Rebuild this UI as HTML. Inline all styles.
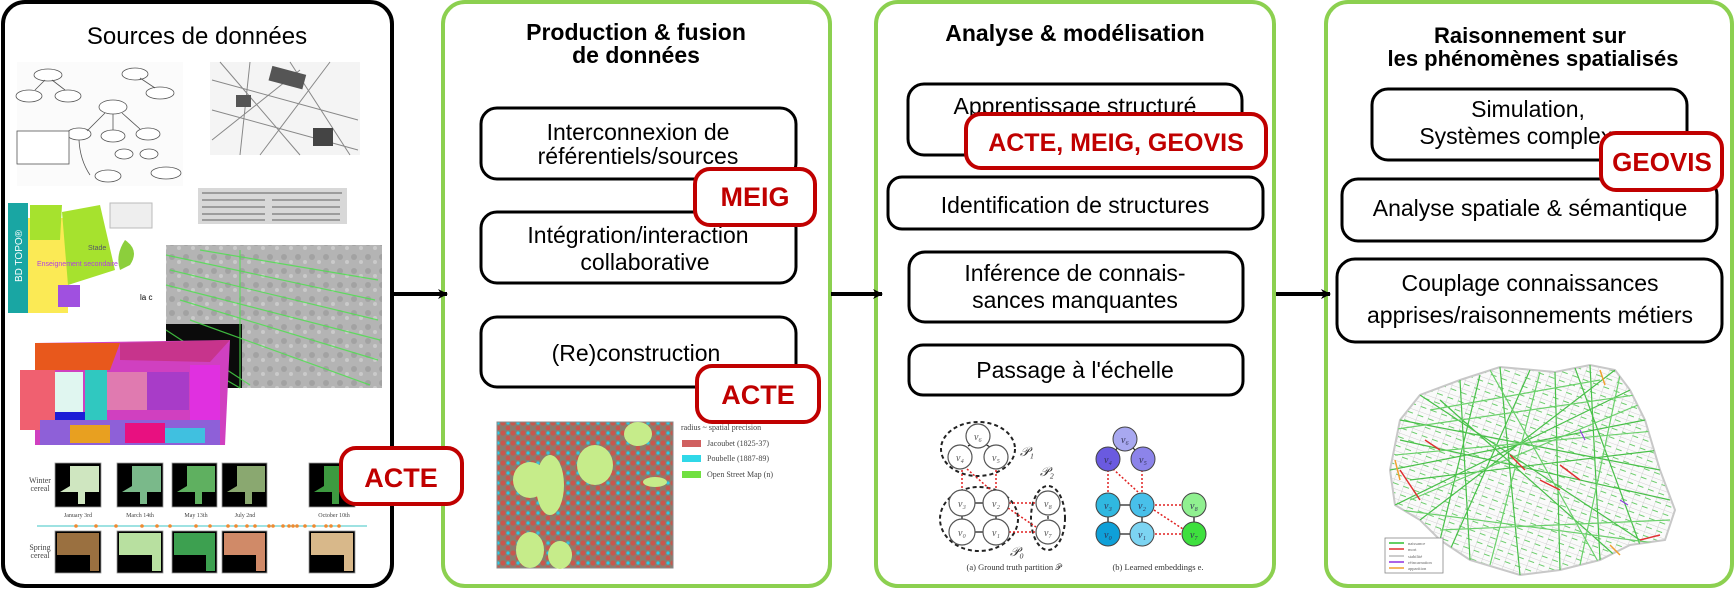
<!DOCTYPE html>
<html><head><meta charset="utf-8"><style>
html,body{margin:0;padding:0;background:#fff;}
svg{display:block;font-family:"Liberation Sans",Arial,sans-serif;}
</style></head><body>
<svg width="1735" height="589" viewBox="0 0 1735 589" xmlns="http://www.w3.org/2000/svg">
<defs>
<marker id="ah" markerWidth="10" markerHeight="10" refX="9" refY="5" orient="auto" markerUnits="userSpaceOnUse"><path d="M0,0 L10,5 L0,10 L3,5 Z" fill="#000"/></marker>
<pattern id="aer" width="14" height="14" patternUnits="userSpaceOnUse"><rect width="14" height="14" fill="#b4b4b4"/><circle cx="4" cy="5" r="3" fill="#a2a2a2"/><circle cx="11" cy="10" r="2" fill="#cacaca"/></pattern>
<pattern id="dots" width="10" height="10" patternUnits="userSpaceOnUse"><rect width="10" height="10" fill="#8a7d6e"/><circle cx="3" cy="3" r="2.6" fill="#c8574e"/><circle cx="8" cy="8" r="2.4" fill="#c8574e"/><circle cx="8" cy="3" r="1.6" fill="#2ec8e0"/></pattern>
<pattern id="grid" width="11" height="9" patternUnits="userSpaceOnUse" patternTransform="rotate(20)"><rect width="11" height="9" fill="#fafafa"/><path d="M0 0 H11 M0 0 V9" stroke="#d0d0d0" stroke-width="1"/><path d="M0 4 H6" stroke="#5cc85c" stroke-width="0.9"/></pattern>
<clipPath id="pc"><polygon points="1390,470 1400,420 1420,395 1460,380 1500,367 1555,372 1590,365 1615,370 1630,390 1645,420 1660,470 1675,510 1665,540 1630,545 1600,560 1560,570 1520,575 1470,560 1440,540 1420,520 1395,505"/></clipPath>
</defs>

<rect x="3" y="2" width="389" height="584" rx="22" fill="#fff" stroke="#000" stroke-width="4"/>
<rect x="443" y="2" width="387" height="584" rx="22" fill="#fff" stroke="#8cd050" stroke-width="4"/>
<rect x="876" y="2" width="398" height="584" rx="22" fill="#fff" stroke="#8cd050" stroke-width="4"/>
<rect x="1326" y="2" width="406" height="584" rx="22" fill="#fff" stroke="#8cd050" stroke-width="4"/>

<line x1="394" y1="294" x2="447" y2="294" stroke="#000" stroke-width="4" marker-end="url(#ah)"/>
<line x1="831" y1="294" x2="882" y2="294" stroke="#000" stroke-width="4" marker-end="url(#ah)"/>
<line x1="1276" y1="294" x2="1330" y2="294" stroke="#000" stroke-width="4" marker-end="url(#ah)"/>

<text x="197" y="44" font-size="24" text-anchor="middle">Sources de données</text>
<g fill="#fff" stroke="#555" stroke-width="0.8">
<rect x="17" y="62" width="166" height="124" fill="#fbfbfb" stroke="none"/>
<ellipse cx="48" cy="75" rx="14" ry="6"/><ellipse cx="29" cy="96" rx="13" ry="6"/><ellipse cx="68" cy="96" rx="13" ry="6"/>
<ellipse cx="135" cy="74" rx="13" ry="6"/><ellipse cx="160" cy="93" rx="14" ry="6"/><ellipse cx="113" cy="107" rx="14" ry="7"/>
<ellipse cx="79" cy="134" rx="12" ry="6"/><ellipse cx="113" cy="136" rx="12" ry="6"/><ellipse cx="148" cy="134" rx="12" ry="6"/>
<ellipse cx="124" cy="154" rx="9" ry="5"/><ellipse cx="149" cy="154" rx="9" ry="5"/><ellipse cx="108" cy="176" rx="13" ry="6"/><ellipse cx="166" cy="173" rx="15" ry="6"/>
<path d="M35 90 L45 80 M65 90 L52 80 M87 131 L105 113 M113 130 L113 114 M140 129 L122 113 M155 88 L140 78 M90 175 Q80 160 79 140" fill="none"/>
<rect x="17" y="131" width="52" height="33"/>
</g>
<rect x="210" y="62" width="150" height="93" fill="#f4f4f4"/>
<g stroke="#888" stroke-width="1" fill="none">
<path d="M212 80 L358 120 M220 62 L300 155 M250 62 L240 155 M212 110 L358 150 M290 62 L350 155 M330 62 L260 155 M212 140 L300 70"/>
</g>
<rect x="270" y="70" width="35" height="15" fill="#555" transform="rotate(15 287 77)"/>
<rect x="236" y="95" width="15" height="12" fill="#555"/>
<rect x="313" y="128" width="20" height="18" fill="#444"/>
<rect x="198" y="188" width="149" height="36" fill="#d8d8d8"/>
<g stroke="#777" stroke-width="1.2"><line x1="202" y1="193" x2="342" y2="193"/><line x1="202" y1="200" x2="265" y2="200"/><line x1="272" y1="200" x2="340" y2="200"/><line x1="202" y1="207" x2="265" y2="207"/><line x1="272" y1="207" x2="340" y2="207"/><line x1="202" y1="214" x2="265" y2="214"/><line x1="272" y1="214" x2="340" y2="214"/><line x1="202" y1="220" x2="265" y2="220"/><line x1="272" y1="220" x2="340" y2="220"/></g>
<rect x="8" y="203" width="20" height="110" fill="#19a6a3"/>
<text transform="translate(22 282) rotate(-90)" font-size="10" fill="#fff">BD TOPO®</text>
<rect x="28" y="203" width="127" height="110" fill="#fff"/>
<rect x="28" y="218" width="40" height="95" fill="#fbea55"/>
<polygon points="62,212 100,205 115,270 68,285" fill="#a6e22e"/>
<polygon points="30,205 62,205 60,240 30,240" fill="#a6e22e"/>
<rect x="58" y="285" width="22" height="22" fill="#a050e0"/>
<rect x="110" y="203" width="42" height="25" fill="#eee" stroke="#bbb"/>
<path d="M125 240 Q140 250 130 265 L120 270 Q115 255 125 240Z" fill="#8ccf3c"/>
<text x="88" y="250" font-size="7" fill="#556">Stade</text>
<text x="37" y="266" font-size="7" fill="#b040e0">Enseignement secondaire</text>
<text x="140" y="300" font-size="8">la c</text>
<rect x="166" y="245" width="216" height="143" fill="url(#aer)"/>
<rect x="166" y="324" width="76" height="64" fill="#0b0b0b"/>
<g stroke="#4be24b" stroke-width="1.2" opacity="0.8">
<line x1="166" y1="255" x2="375" y2="300"/><line x1="170" y1="270" x2="378" y2="320"/><line x1="166" y1="285" x2="380" y2="340"/><line x1="180" y1="300" x2="378" y2="360"/><line x1="190" y1="320" x2="370" y2="385"/><line x1="166" y1="330" x2="250" y2="385"/><line x1="166" y1="345" x2="240" y2="388"/><line x1="240" y1="250" x2="240" y2="388"/><line x1="200" y1="250" x2="378" y2="280"/></g>
<polygon points="35,343 230,340 225,445 35,445" fill="#d040c0"/>
<polygon points="35,343 120,343 110,370 35,370" fill="#e8581c"/>
<polygon points="120,343 230,340 210,362 120,360" fill="#c7348c"/>
<rect x="20" y="370" width="35" height="60" fill="#f06070"/>
<rect x="55" y="372" width="28" height="40" fill="#e0f6f0"/>
<rect x="55" y="412" width="30" height="20" fill="#1d1dd6"/>
<rect x="85" y="370" width="22" height="50" fill="#30c8c0"/>
<rect x="107" y="372" width="40" height="38" fill="#e07ab0"/>
<rect x="147" y="372" width="42" height="38" fill="#a83cc8"/>
<rect x="190" y="365" width="30" height="60" fill="#e030e0"/>
<rect x="40" y="420" width="180" height="25" fill="#8e60d8"/>
<rect x="70" y="425" width="40" height="18" fill="#e8a020"/>
<rect x="125" y="423" width="40" height="20" fill="#e81080"/>
<rect x="165" y="428" width="40" height="15" fill="#40c0e0"/>
<text x="40" y="483" font-size="8" font-family="Liberation Serif" text-anchor="middle" fill="#444">Winter</text>
<text x="40" y="491" font-size="8" font-family="Liberation Serif" text-anchor="middle" fill="#444">cereal</text>
<text x="40" y="550" font-size="8" font-family="Liberation Serif" text-anchor="middle" fill="#444">Spring</text>
<text x="40" y="558" font-size="8" font-family="Liberation Serif" text-anchor="middle" fill="#444">cereal</text>
<g stroke="#999" stroke-width="0.8">
<rect x="55" y="463" width="46" height="44" fill="#000"/><rect x="117" y="463" width="46" height="44" fill="#000"/><rect x="172" y="463" width="45" height="44" fill="#000"/><rect x="222" y="463" width="45" height="44" fill="#000"/><rect x="309" y="463" width="46" height="44" fill="#000"/>
<rect x="55" y="531" width="46" height="42" fill="#000"/><rect x="117" y="531" width="46" height="42" fill="#000"/><rect x="172" y="531" width="45" height="42" fill="#000"/><rect x="222" y="531" width="45" height="42" fill="#000"/><rect x="309" y="531" width="46" height="42" fill="#000"/>
</g>
<g>
<polygon points="70,466 99,466 99,492 85,492 85,504 78,504 78,492 60,492 70,486" fill="#cfe6c0"/>
<polygon points="132,466 161,466 161,492 147,492 147,504 140,504 140,492 122,492 132,486" fill="#7ab98a"/>
<polygon points="187,466 215,466 215,492 202,492 202,504 195,504 195,492 177,492 187,486" fill="#5fb060"/>
<polygon points="237,466 265,466 265,492 252,492 252,504 245,504 245,492 227,492 237,486" fill="#8aa870"/>
<polygon points="324,466 353,466 353,492 339,492 339,504 332,504 332,492 314,492 324,486" fill="#3d9a40"/>
<polygon points="57,533 99,533 99,571 90,571 90,555 57,555" fill="#9a7040"/>
<polygon points="119,533 161,533 161,571 152,571 152,555 119,555" fill="#b8e0a0"/>
<polygon points="174,533 215,533 215,571 206,571 206,555 174,555" fill="#3da050"/>
<polygon points="224,533 265,533 265,571 256,571 256,555 224,555" fill="#d08a68"/>
<polygon points="311,533 353,533 353,571 344,571 344,555 311,555" fill="#d8b88a"/>
</g>
<line x1="37" y1="526" x2="367" y2="526" stroke="#7fd8d8" stroke-width="1.5"/>
<g fill="#f08a30"><circle cx="76" cy="526" r="1.8"/><circle cx="96" cy="526" r="1.8"/><circle cx="116" cy="526" r="1.8"/><circle cx="142" cy="526" r="1.8"/><circle cx="157" cy="526" r="1.8"/><circle cx="170" cy="526" r="1.8"/><circle cx="196" cy="526" r="1.8"/><circle cx="210" cy="526" r="1.8"/><circle cx="228" cy="526" r="1.8"/><circle cx="236" cy="526" r="1.8"/><circle cx="247" cy="526" r="1.8"/><circle cx="255" cy="526" r="1.8"/><circle cx="269" cy="526" r="1.8"/><circle cx="273" cy="526" r="1.8"/><circle cx="283" cy="526" r="1.8"/><circle cx="289" cy="526" r="1.8"/><circle cx="293" cy="526" r="1.8"/><circle cx="297" cy="526" r="1.8"/><circle cx="305" cy="526" r="1.8"/><circle cx="314" cy="526" r="1.8"/><circle cx="326" cy="526" r="1.8"/><circle cx="331" cy="526" r="1.8"/><circle cx="339" cy="526" r="1.8"/></g>
<g font-size="6" font-family="Liberation Serif" fill="#444" text-anchor="middle"><text x="78" y="517">January 3rd</text><text x="140" y="517">March 14th</text><text x="196" y="517">May 13th</text><text x="245" y="517">July 2nd</text><text x="334" y="517">October 10th</text></g>
<rect x="341" y="448" width="121" height="56" rx="15" fill="#fff" stroke="#c00000" stroke-width="4"/>
<text x="401" y="487" font-size="27" font-weight="bold" fill="#c00000" text-anchor="middle">ACTE</text>

<g font-weight="bold" font-size="23" text-anchor="middle"><text x="636" y="40">Production &amp; fusion</text><text x="636" y="63">de données</text></g>
<g fill="#fff" stroke="#000" stroke-width="3">
<rect x="481" y="108" width="315" height="71" rx="16"/>
<rect x="481" y="212" width="315" height="71" rx="16"/>
<rect x="481" y="317" width="315" height="70" rx="16"/>
</g>
<g font-size="23" text-anchor="middle">
<text x="638" y="140">Interconnexion de</text><text x="638" y="164">référentiels/sources</text>
<text x="638" y="243">Intégration/interaction</text><text x="645" y="270">collaborative</text>
<text x="636" y="361">(Re)construction</text>
</g>
<rect x="695" y="169" width="120" height="56" rx="15" fill="#fff" stroke="#c00000" stroke-width="4"/>
<text x="755" y="206" font-size="27" font-weight="bold" fill="#c00000" text-anchor="middle">MEIG</text>
<rect x="697" y="366" width="122" height="56" rx="15" fill="#fff" stroke="#c00000" stroke-width="4"/>
<text x="758" y="404" font-size="27" font-weight="bold" fill="#c00000" text-anchor="middle">ACTE</text>
<rect x="497" y="422" width="176" height="146" fill="url(#dots)" stroke="#888"/>
<g fill="#c6ec8a"><ellipse cx="530" cy="480" rx="17" ry="18"/><ellipse cx="550" cy="485" rx="14" ry="30"/><ellipse cx="595" cy="465" rx="18" ry="20"/><ellipse cx="638" cy="434" rx="14" ry="12"/><ellipse cx="530" cy="550" rx="14" ry="18"/><ellipse cx="560" cy="555" rx="12" ry="14"/><ellipse cx="655" cy="482" rx="12" ry="5"/></g>
<g font-family="Liberation Serif" font-size="8" fill="#444"><text x="681" y="430">radius ~ spatial precision</text><text x="707" y="446">Jacoubet (1825-37)</text><text x="707" y="461">Poubelle (1887-89)</text><text x="707" y="477">Open Street Map (n)</text></g>
<rect x="682" y="440" width="19" height="7" fill="#d06060"/><rect x="682" y="455" width="19" height="7" fill="#30d8e8"/><rect x="682" y="471" width="19" height="7" fill="#70e040"/>

<text x="1075" y="41" font-size="23" font-weight="bold" text-anchor="middle">Analyse &amp; modélisation</text>
<g fill="#fff" stroke="#000" stroke-width="3">
<rect x="908" y="84" width="334" height="71" rx="16"/>
<rect x="888" y="177" width="375" height="52" rx="14"/>
<rect x="909" y="252" width="334" height="70" rx="16"/>
<rect x="909" y="345" width="334" height="50" rx="14"/>
</g>
<g font-size="23" text-anchor="middle">
<text x="1075" y="114">Apprentissage structuré</text>
<text x="1075" y="213">Identification de structures</text>
<text x="1075" y="281">Inférence de connais-</text><text x="1075" y="308">sances manquantes</text>
<text x="1075" y="378">Passage à l'échelle</text>
</g>
<rect x="966" y="114" width="300" height="54" rx="15" fill="#fff" stroke="#c00000" stroke-width="4"/>
<text x="1116" y="151" font-size="25" font-weight="bold" fill="#c00000" text-anchor="middle">ACTE, MEIG, GEOVIS</text>
<g fill="none" stroke="#222" stroke-width="2" stroke-dasharray="4 3">
<ellipse cx="978" cy="449" rx="37" ry="27"/><ellipse cx="979" cy="519" rx="39" ry="32"/><ellipse cx="1048" cy="518" rx="17" ry="32"/></g>
<g stroke="#e02020" stroke-width="1.5" stroke-dasharray="2 2"><line x1="962" y1="470" x2="962" y2="490"/><line x1="996" y1="470" x2="996" y2="490"/><line x1="967" y1="469" x2="993" y2="492"/><line x1="1009" y1="503" x2="1035" y2="503"/><line x1="1008" y1="508" x2="1036" y2="527"/><line x1="1009" y1="532" x2="1035" y2="532"/></g>
<g stroke="#222" stroke-width="1.3"><line x1="975" y1="503" x2="983" y2="503"/><line x1="975" y1="532" x2="983" y2="532"/><line x1="962" y1="516" x2="962" y2="519"/><line x1="996" y1="516" x2="996" y2="519"/><line x1="1048" y1="516" x2="1048" y2="519"/><line x1="968" y1="446" x2="972" y2="444"/><line x1="985" y1="444" x2="990" y2="447"/></g>
<g fill="#fff" stroke="#555" stroke-width="1.2"><circle cx="978" cy="436" r="12"/><circle cx="960" cy="457" r="12"/><circle cx="996" cy="457" r="12"/><circle cx="962" cy="503" r="13"/><circle cx="996" cy="503" r="13"/><circle cx="962" cy="532" r="13"/><circle cx="996" cy="532" r="13"/><circle cx="1048" cy="503" r="12"/><circle cx="1048" cy="532" r="12"/></g>
<g font-family="Liberation Serif" font-style="italic" font-size="10" fill="#555" text-anchor="middle"><text x="978" y="440">v₆</text><text x="960" y="461">v₄</text><text x="996" y="461">v₅</text><text x="962" y="507">v₃</text><text x="996" y="507">v₂</text><text x="962" y="536">v₀</text><text x="996" y="536">v₁</text><text x="1048" y="507">v₈</text><text x="1048" y="536">v₇</text></g>
<g font-family="Liberation Serif" font-style="italic" font-size="13" fill="#333"><text x="1020" y="456">𝒫₁</text><text x="1040" y="476">𝒫₂</text><text x="1010" y="556">𝒫₀</text></g>
<g stroke="#e02020" stroke-width="1.5" stroke-dasharray="2 2"><line x1="1108" y1="470" x2="1108" y2="492"/><line x1="1142" y1="470" x2="1142" y2="492"/><line x1="1113" y1="469" x2="1138" y2="492"/><line x1="1155" y1="505" x2="1182" y2="505"/><line x1="1154" y1="510" x2="1183" y2="529"/><line x1="1155" y1="534" x2="1182" y2="534"/></g>
<g stroke="#222" stroke-width="1.3"><line x1="1108" y1="505" x2="1142" y2="505"/><line x1="1108" y1="534" x2="1142" y2="534"/><line x1="1108" y1="505" x2="1108" y2="534"/><line x1="1142" y1="505" x2="1142" y2="534"/><line x1="1194" y1="505" x2="1194" y2="534"/><line x1="1125" y1="439" x2="1108" y2="459"/><line x1="1125" y1="439" x2="1143" y2="459"/></g>
<g stroke="#444" stroke-width="1"><circle cx="1125" cy="439" r="12" fill="#a8a8f0"/><circle cx="1108" cy="459" r="12" fill="#6a5ae0"/><circle cx="1143" cy="459" r="12" fill="#8c84ea"/><circle cx="1108" cy="505" r="12" fill="#30b8e0"/><circle cx="1142" cy="505" r="12" fill="#48c0ea"/><circle cx="1108" cy="534" r="12" fill="#0fa0d8"/><circle cx="1142" cy="534" r="12" fill="#7cd4f2"/><circle cx="1194" cy="505" r="12" fill="#90f090"/><circle cx="1194" cy="534" r="12" fill="#3ee03e"/></g>
<g font-family="Liberation Serif" font-style="italic" font-size="10" fill="#335" text-anchor="middle"><text x="1125" y="443">v₆</text><text x="1108" y="463">v₄</text><text x="1143" y="463">v₅</text><text x="1108" y="509">v₃</text><text x="1142" y="509">v₂</text><text x="1108" y="538">v₀</text><text x="1142" y="538">v₁</text><text x="1194" y="509">v₈</text><text x="1194" y="538">v₇</text></g>
<g font-family="Liberation Serif" font-size="8.5" fill="#333" text-anchor="middle"><text x="1014" y="570">(a) Ground truth partition 𝒫</text><text x="1158" y="570">(b) Learned embeddings e.</text></g>

<g font-weight="bold" font-size="22" text-anchor="middle"><text x="1530" y="43">Raisonnement sur</text><text x="1533" y="66">les phénomènes spatialisés</text></g>
<g fill="#fff" stroke="#000" stroke-width="3">
<rect x="1372" y="89" width="315" height="71" rx="16"/>
<rect x="1342" y="179" width="375" height="62" rx="16"/>
<rect x="1337" y="259" width="385" height="83" rx="18"/>
</g>
<g font-size="23" text-anchor="middle">
<text x="1528" y="117">Simulation,</text><text x="1528" y="144">Systèmes complexes</text>
<text x="1530" y="216">Analyse spatiale &amp; sémantique</text>
<text x="1530" y="291">Couplage connaissances</text><text x="1530" y="323">apprises/raisonnements métiers</text>
</g>
<rect x="1601" y="133" width="121" height="57" rx="15" fill="#fff" stroke="#c00000" stroke-width="4"/>
<text x="1662" y="171" font-size="26" font-weight="bold" fill="#c00000" text-anchor="middle">GEOVIS</text>
<polygon points="1390,470 1400,420 1420,395 1460,380 1500,367 1555,372 1590,365 1615,370 1630,390 1645,420 1660,470 1675,510 1665,540 1630,545 1600,560 1560,570 1520,575 1470,560 1440,540 1420,520 1395,505" fill="url(#grid)" stroke="#c8c8c8" stroke-width="2"/>
<g clip-path="url(#pc)" stroke="#48c048" stroke-width="1.2" fill="none">
<path d="M1400 420 L1660 470 M1420 395 L1640 540 M1460 380 L1470 560 M1500 367 L1520 575 M1555 372 L1560 570 M1590 365 L1600 560 M1615 370 L1420 520 M1630 390 L1395 505 M1645 420 L1390 470 M1400 440 L1670 500 M1410 480 L1660 450 M1440 400 L1620 560 M1530 370 L1450 550 M1575 368 L1640 545 M1480 375 L1440 540"/>
<path d="M1395 455 L1665 430 M1410 500 L1650 400 M1430 410 L1600 380 M1440 530 L1670 520 M1490 370 L1600 565 M1540 372 L1490 565 M1620 375 L1580 565 M1390 430 L1670 390 M1400 510 L1670 545" stroke="#6ad06a"/>
</g>
<g stroke="#e03030" stroke-width="1.5" fill="none"><path d="M1510 455 L1525 470 M1560 465 L1580 480 M1400 470 L1420 500 M1540 480 L1560 490 M1640 540 L1660 535 M1425 440 L1440 450"/></g>
<g stroke="#f0a030" stroke-width="1.5"><line x1="1600" y1="370" x2="1605" y2="385"/><line x1="1395" y1="460" x2="1400" y2="480"/><line x1="1610" y1="545" x2="1620" y2="555"/></g>
<g stroke="#9040e0" stroke-width="1.2"><line x1="1580" y1="430" x2="1585" y2="440"/><line x1="1620" y1="500" x2="1628" y2="505"/></g>
<rect x="1385" y="538" width="58" height="35" fill="#fff" stroke="#888" stroke-width="0.8"/>
<g stroke-width="1.5"><line x1="1389" y1="543" x2="1404" y2="543" stroke="#30c030"/><line x1="1389" y1="549" x2="1404" y2="549" stroke="#e03030"/><line x1="1389" y1="556" x2="1404" y2="556" stroke="#bbb"/><line x1="1389" y1="562" x2="1404" y2="562" stroke="#9030e0"/><line x1="1389" y1="568" x2="1404" y2="568" stroke="#f0a030"/></g>
<g font-family="Liberation Serif" font-size="4.5" fill="#666"><text x="1408" y="545">naissance</text><text x="1408" y="551">mort</text><text x="1408" y="558">stabilité</text><text x="1408" y="564">réincarnation</text><text x="1408" y="570">apparition</text></g>
</svg>
</body></html>
